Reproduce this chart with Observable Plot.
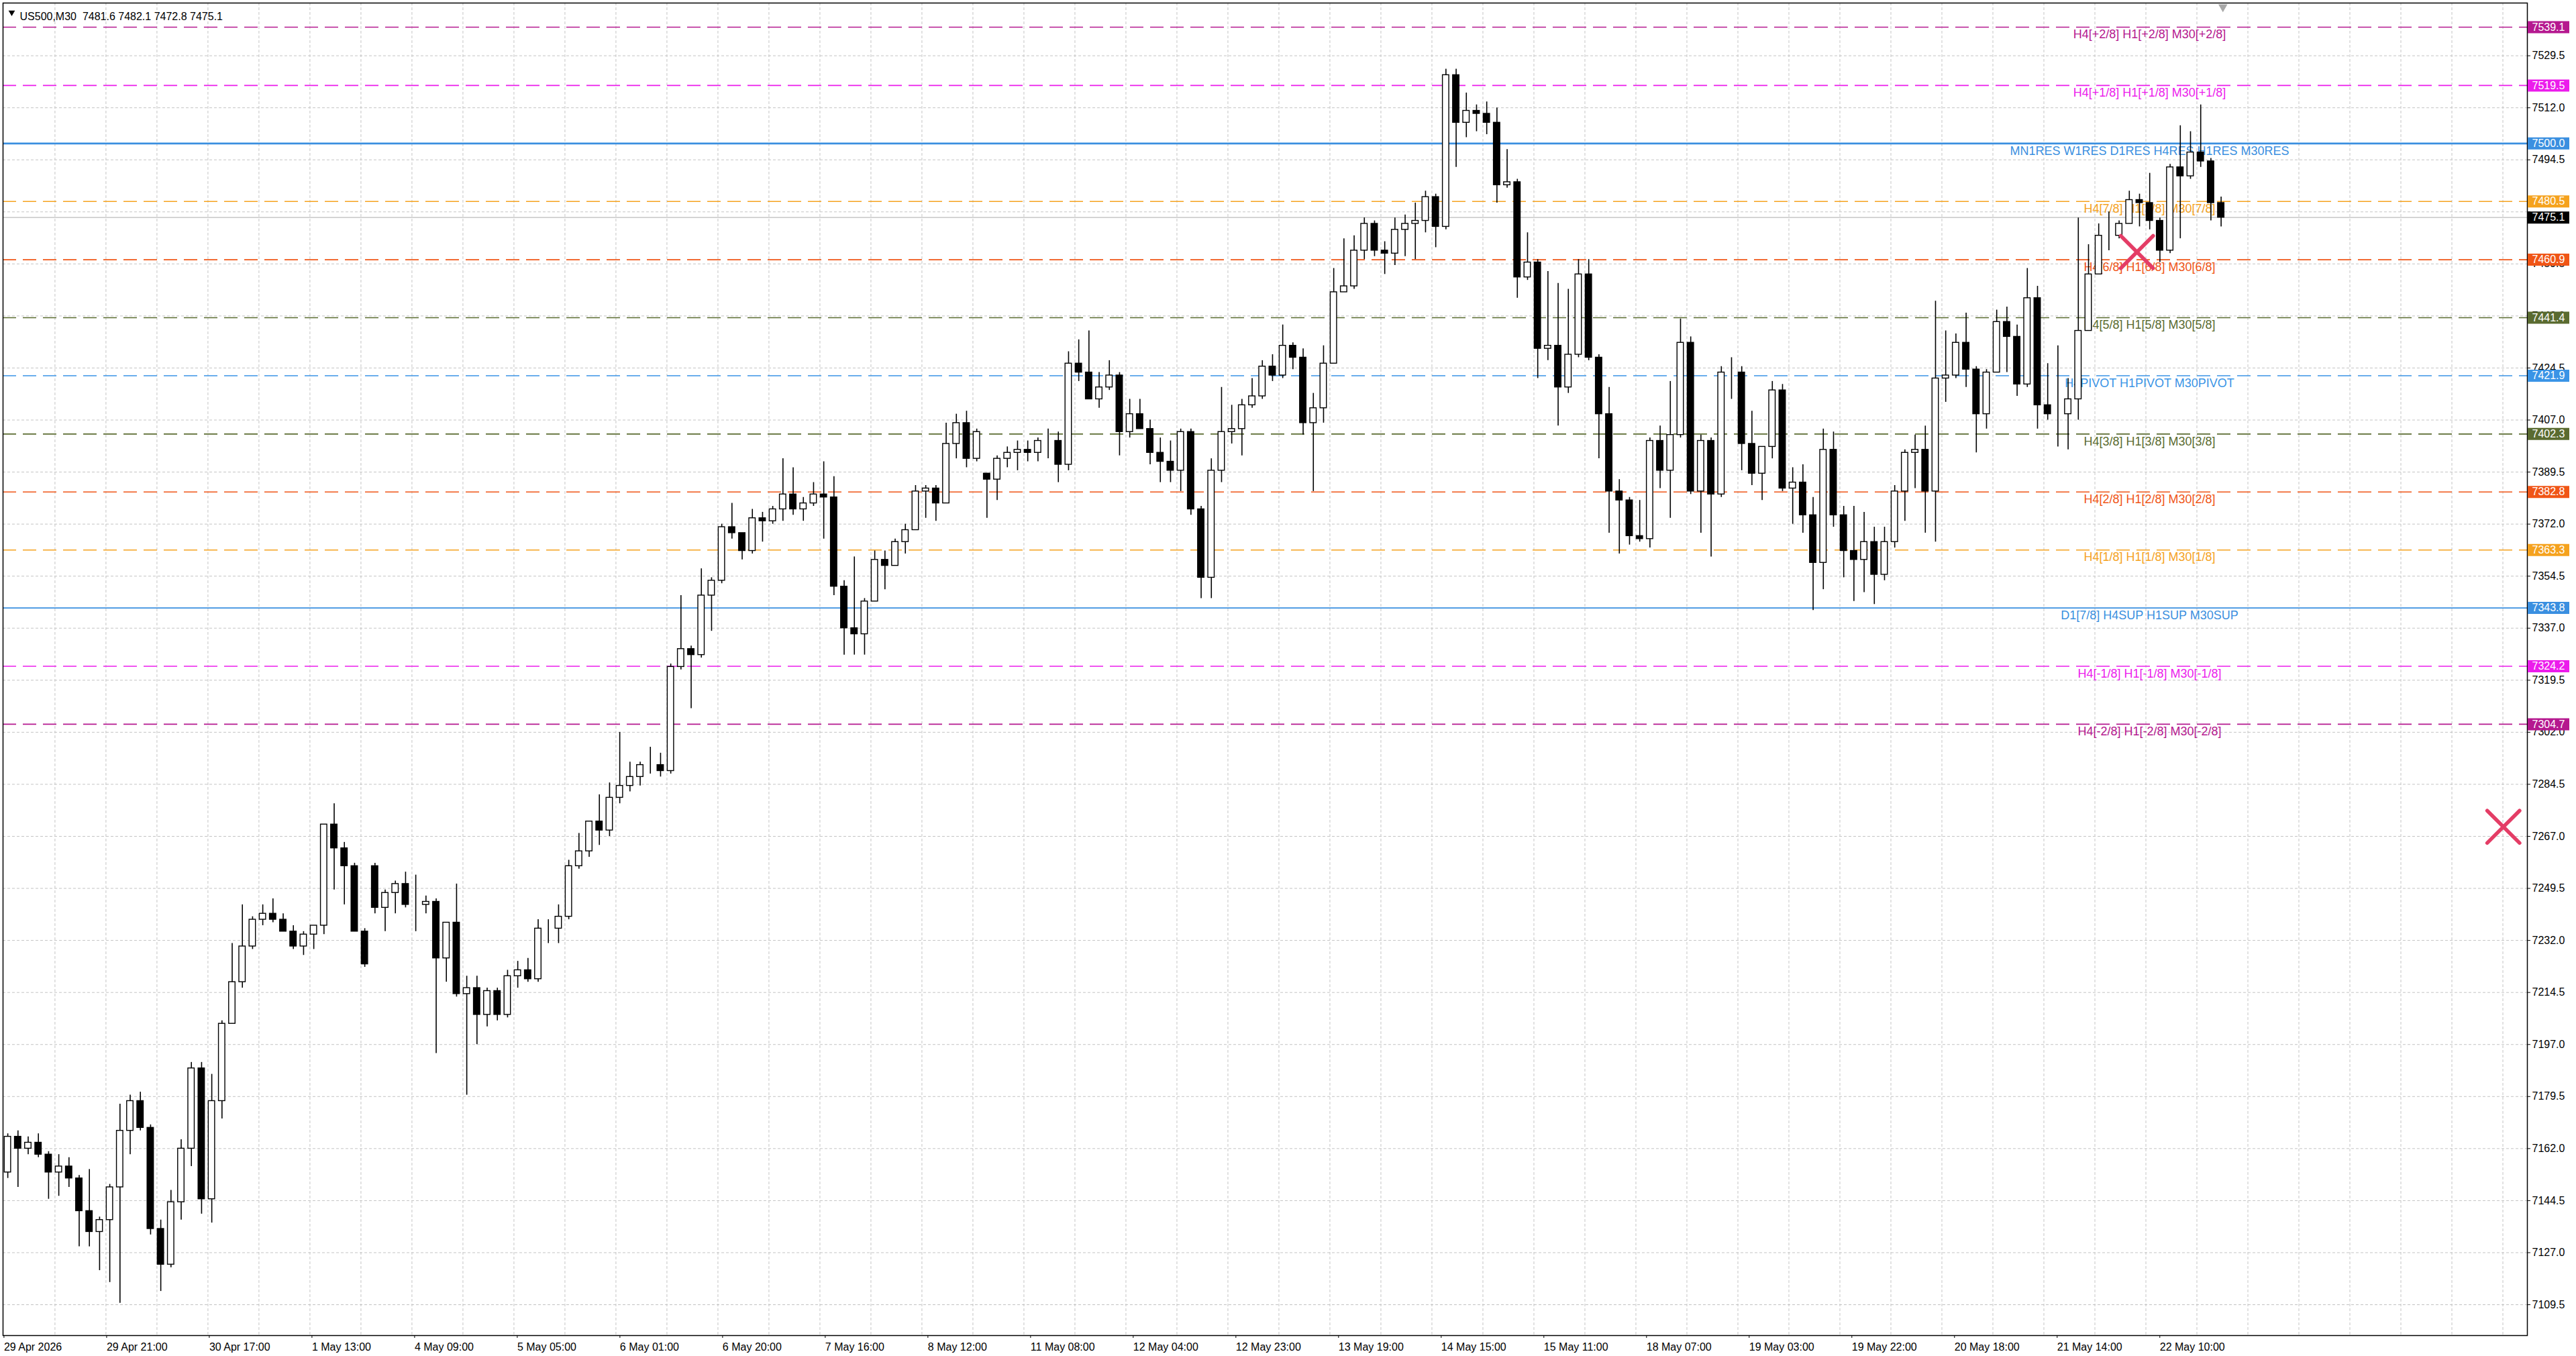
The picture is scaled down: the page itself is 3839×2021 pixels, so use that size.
<!DOCTYPE html>
<html>
<head>
<meta charset="utf-8">
<script src="https://cdn.jsdelivr.net/npm/d3@7"></script>
<script src="https://cdn.jsdelivr.net/npm/@observablehq/plot@0.6"></script>
<style>
html, body { margin: 0; padding: 0; background: #fff; overflow: hidden; }
#chart svg { display: block; }
</style>
</head>
<body>
<div id="chart"></div>
<script>
// ---- Data (2-hour candles) ----
const symbolName = "US500,M30";
const headerOHLC = [7481.6, 7482.1, 7472.8, 7475.1];
const currentPrice = 7475.1;

const open = [
7154,7166,7162,7164,7160,7154,7156,7152,7141,7134,
7138,7149,7168,7178,7169,7135,7123,7144,7162,7189,
7145,7178,7204,7218,7230,7239,7241,7239,7235,7230,
7234,7237,7271,7263,7257,7235,7257,7243,7248,7251,
7244,7244,7245,7226,7238,7214,7216,7207,7215,7207,
7220,7222,7219,7236,7236,7240,7257,7262,7272,7269,
7280,7284,7287,7291,7291,7289,7324,7330,7328,7348,
7353,7371,7369,7363,7374,7373,7377,7382,7377,7379,
7382,7381,7351,7337,7335,7346,7360,7358,7366,7370,
7383,7384,7379,7399,7406,7394,7389,7387,7394,7396,
7397,7396,7400,7400,7392,7426,7423,7414,7418,7422,
7403,7409,7404,7396,7393,7390,7403,7377,7354,7390,
7403,7404,7412,7415,7425,7422,7432,7428,7406,7411,
7426,7450,7452,7464,7473,7464,7463,7471,7473,7474,
7482,7472,7523,7507,7511,7510,7507,7486,7487,7455,
7460,7431,7432,7418,7429,7456,7428,7409,7383,7380,
7368,7367,7400,7390,7402,7433,7383,7400,7382,7423,
7423,7399,7389,7398,7417,7384,7386,7375,7359,7397,
7375,7363,7360,7366,7355,7366,7383,7396,7397,7383,
7421,7422,7433,7424,7409,7423,7440,7435,7419,7448,
7412,7409,7409,7414,7437,7456,7469,7469,7473,7481,
7480,7474,7464,7492,7489,7497,7494,7480
];
const high = [
7167,7168,7166,7167,7161,7160,7159,7153,7155,7139,
7150,7177,7180,7181,7170,7138,7148,7165,7191,7191,
7187,7205,7231,7244,7240,7244,7246,7241,7237,7235,
7237,7271,7278,7265,7258,7236,7258,7249,7252,7255,
7254,7247,7246,7238,7251,7220,7220,7216,7216,7222,
7225,7226,7239,7239,7244,7259,7268,7272,7281,7285,
7302,7292,7292,7297,7295,7325,7348,7331,7357,7354,
7372,7379,7369,7377,7376,7378,7394,7391,7381,7386,
7393,7388,7353,7361,7347,7363,7363,7367,7372,7385,
7385,7385,7406,7409,7410,7404,7389,7395,7398,7400,
7400,7401,7404,7403,7430,7434,7437,7423,7427,7423,
7414,7414,7407,7401,7400,7404,7404,7378,7394,7418,
7412,7414,7421,7427,7429,7439,7433,7431,7416,7432,
7458,7468,7469,7475,7474,7467,7475,7476,7480,7484,
7483,7525,7525,7517,7513,7514,7512,7498,7488,7470,
7461,7457,7453,7451,7461,7461,7429,7418,7387,7381,
7380,7401,7405,7420,7441,7435,7402,7401,7425,7428,
7425,7410,7398,7420,7419,7391,7392,7381,7404,7403,
7378,7378,7376,7371,7371,7385,7397,7402,7405,7447,
7437,7436,7443,7425,7424,7444,7445,7439,7458,7452,
7426,7432,7421,7475,7466,7473,7477,7474,7484,7483,
7490,7475,7493,7506,7504,7513,7495,7482
];
const low = [
7152,7149,7160,7159,7145,7146,7149,7129,7129,7121,
7117,7110,7160,7168,7133,7114,7122,7138,7156,7140,
7137,7172,7204,7216,7229,7237,7238,7235,7229,7227,
7229,7234,7249,7244,7235,7223,7241,7235,7241,7243,
7235,7241,7194,7218,7213,7180,7197,7203,7205,7206,
7216,7218,7218,7231,7231,7239,7256,7260,7264,7267,
7278,7282,7284,7288,7287,7288,7323,7310,7327,7336,
7352,7367,7360,7362,7366,7372,7373,7375,7373,7378,
7367,7348,7328,7328,7328,7346,7350,7358,7362,7370,
7374,7373,7379,7394,7391,7393,7374,7380,7391,7390,
7393,7393,7394,7386,7390,7420,7414,7411,7417,7395,
7401,7404,7392,7386,7386,7383,7375,7347,7347,7386,
7399,7395,7411,7414,7420,7421,7424,7402,7383,7406,
7426,7450,7451,7461,7462,7456,7459,7462,7461,7470,
7465,7471,7492,7502,7504,7503,7480,7485,7448,7454,
7421,7427,7405,7416,7428,7427,7394,7369,7362,7365,
7366,7364,7384,7374,7401,7382,7369,7361,7381,7414,
7390,7385,7380,7394,7383,7372,7369,7343,7350,7371,
7354,7346,7349,7345,7353,7364,7373,7384,7369,7366,
7413,7421,7418,7396,7404,7423,7423,7415,7418,7404,
7407,7398,7397,7407,7437,7456,7464,7468,7473,7472,
7471,7460,7463,7468,7488,7492,7474,7472
];
const close = [
7166,7162,7164,7160,7154,7156,7152,7141,7134,7138,
7149,7168,7178,7169,7135,7123,7144,7162,7189,7145,
7178,7204,7218,7230,7239,7241,7239,7235,7230,7234,
7237,7271,7263,7257,7235,7224,7243,7248,7251,7244,
7244,7245,7226,7238,7214,7216,7207,7215,7207,7220,
7222,7219,7236,7236,7240,7257,7262,7272,7269,7280,
7284,7287,7291,7291,7289,7324,7330,7328,7348,7353,
7371,7369,7363,7374,7373,7377,7382,7377,7379,7382,
7381,7351,7337,7335,7346,7360,7358,7366,7370,7383,
7384,7379,7399,7406,7394,7403,7387,7394,7396,7397,
7396,7400,7400,7392,7426,7423,7414,7418,7422,7403,
7409,7404,7396,7393,7390,7403,7377,7354,7390,7403,
7404,7412,7415,7425,7422,7432,7428,7406,7411,7426,
7450,7452,7464,7473,7464,7463,7471,7473,7474,7482,
7472,7523,7507,7511,7510,7507,7486,7487,7455,7460,
7431,7432,7418,7429,7456,7428,7409,7383,7380,7368,
7367,7400,7390,7402,7433,7383,7400,7382,7423,7423,
7399,7389,7398,7417,7384,7386,7375,7359,7397,7375,
7363,7360,7366,7355,7366,7383,7396,7397,7383,7421,
7422,7433,7424,7409,7423,7440,7435,7419,7448,7412,
7409,7409,7414,7437,7456,7469,7469,7473,7481,7480,
7474,7464,7492,7489,7497,7494,7480,7475.1
];

const levelKeys = ["+2/8","+1/8","8/8","7/8","6/8","5/8","4/8","3/8","2/8","1/8","0/8","-1/8","-2/8"];
const levelPrices = [7539.1, 7519.5, 7500.0, 7480.5, 7460.9, 7441.4, 7421.9, 7402.3, 7382.8, 7363.3, 7343.8, 7324.2, 7304.7];
const levelLabels = [
  "H4[+2/8] H1[+2/8] M30[+2/8]",
  "H4[+1/8] H1[+1/8] M30[+1/8]",
  "MN1RES W1RES D1RES H4RES H1RES M30RES",
  "H4[7/8] H1[7/8] M30[7/8]",
  "H4[6/8] H1[6/8] M30[6/8]",
  "H4[5/8] H1[5/8] M30[5/8]",
  "H4PIVOT H1PIVOT M30PIVOT",
  "H4[3/8] H1[3/8] M30[3/8]",
  "H4[2/8] H1[2/8] M30[2/8]",
  "H4[1/8] H1[1/8] M30[1/8]",
  "D1[7/8] H4SUP H1SUP M30SUP",
  "H4[-1/8] H1[-1/8] M30[-1/8]",
  "H4[-2/8] H1[-2/8] M30[-2/8]"
];
const solidKeys = ["8/8", "0/8"];

const yTicks = [7109.5, 7127.0, 7144.5, 7162.0, 7179.5, 7197.0, 7214.5, 7232.0, 7249.5, 7267.0,
  7284.5, 7302.0, 7319.5, 7337.0, 7354.5, 7372.0, 7389.5, 7407.0, 7424.5, 7442.0,
  7459.5, 7477.0, 7494.5, 7512.0, 7529.5];
const xTickLabels = ["29 Apr 2026","29 Apr 21:00","30 Apr 17:00","1 May 13:00","4 May 09:00",
  "5 May 05:00","6 May 01:00","6 May 20:00","7 May 16:00","8 May 12:00","11 May 08:00",
  "12 May 04:00","12 May 23:00","13 May 19:00","14 May 15:00","15 May 11:00","18 May 07:00",
  "19 May 03:00","19 May 22:00","20 May 18:00","21 May 14:00","22 May 10:00"];

// chart objects (crosses), in bar index / price
const crossBars = [836.5, 980.2];
const crossPrices = [7463.5, 7270.2];
const shiftBar = 870.2;

// ---- Styles ----
const levelColors = ["#b5188f","#ec1cec","#3a8fe0","#f5a21e","#f05516","#5a6b30","#3a94e6","#5a6b30","#f05516","#f5a21e","#3a8fe0","#ec1cec","#b5188f"];
const font = "'Liberation Sans', Arial, sans-serif";

// ---- Build ----
const candles = close.map((c, i) => ({bar: 4 * i + 1.5, o: open[i], h: high[i], l: low[i], c}));
const bull = candles.filter(d => d.c >= d.o);
const bear = candles.filter(d => d.c < d.o);
const levels = levelPrices.map((p, i) => ({price: p, key: levelKeys[i], label: levelLabels[i]}));
const dashed = levels.filter(d => !solidKeys.includes(d.key));
const crosses = crossBars.map((b, i) => ({bar: b, price: crossPrices[i]}));
const xTickBars = xTickLabels.map((_, i) => i * 40.26 - 0.26);
const tickMap = new Map(xTickBars.map((b, i) => [b, xTickLabels[i]]));
const gridBars = d3.range(20, 990, 20);
const header = symbolName + "\u00a0\u00a0" + headerOHLC.map(v => v.toFixed(1)).join(" ");
// a y label squeezed between two price tags is hidden behind them
const yLabel = d => Math.abs(d - currentPrice) < 3.6 ? "" : d.toFixed(1);
const bw = 1.25; // half body width in bars

const chart = Plot.plot({
  width: 3839,
  height: 2021,
  marginLeft: 4,
  marginTop: 4,
  marginRight: 73,
  marginBottom: 31,
  style: {fontFamily: font, fontSize: "16px", background: "#fff", color: "#000"},
  x: {domain: [-0.37, 989.6], axis: null},
  y: {domain: [7099.13, 7547.23], axis: null},
  color: {domain: levelKeys, range: levelColors},
  marks: [
    // grid
    Plot.ruleY(yTicks, {stroke: "#c4c4c4", strokeWidth: 1, strokeDasharray: "4,3"}),
    Plot.ruleX(gridBars, {stroke: "#c4c4c4", strokeWidth: 1, strokeDasharray: "4,3"}),
    // level lines
    Plot.ruleY(dashed, {y: "price", stroke: "key", strokeWidth: 1.6, strokeDasharray: "20,10"}),
    Plot.ruleY(levels.filter(d => d.key === "8/8"), {y: "price", stroke: "key", strokeWidth: 2.6}),
    Plot.ruleY(levels.filter(d => d.key === "0/8"), {y: "price", stroke: "key", strokeWidth: 1.6}),
    Plot.ruleY([currentPrice], {stroke: "#bcbcbc", strokeWidth: 1.2}),
    // level texts
    Plot.text(levels, {y: "price", text: "label", fill: "key", frameAnchor: "right", dx: -563, dy: 11,
      textAnchor: "middle", fontSize: 18}),
    // candles
    Plot.ruleX(candles, {x: "bar", y1: "l", y2: "h", stroke: "#000", strokeWidth: 1.6}),
    Plot.rect(bull, {x1: d => d.bar - bw, x2: d => d.bar + bw, y1: "o", y2: "c", fill: "#fff", stroke: "#000", strokeWidth: 1.4}),
    Plot.rect(bear, {x1: d => d.bar - bw, x2: d => d.bar + bw, y1: "o", y2: "c", fill: "#000", stroke: "#000", strokeWidth: 1.4}),
    // crosses
    Plot.dot(crosses, {x: "bar", y: "price", symbol: "times", r: 22, stroke: "#e43d66", strokeWidth: 5.5, strokeLinecap: "round"}),
    // frame
    Plot.frame({stroke: "#000", strokeWidth: 1.5}),
    // axes
    Plot.axisY(yTicks, {anchor: "right", tickSize: 4, tickPadding: 3, tickFormat: yLabel, label: null, fontSize: 16}),
    Plot.axisX(xTickBars, {anchor: "bottom", tickSize: 4, tickPadding: 7, tickFormat: d => tickMap.get(d), textAnchor: "start", dx: 1, label: null, fontSize: 16}),
    // price tags
    Plot.ruleY(levels, {y: "price", stroke: "key", strokeWidth: 18, insetLeft: 3763, insetRight: -63}),
    Plot.text(levels, {y: "price", text: d => d.price.toFixed(1), frameAnchor: "right", dx: 7, textAnchor: "start", fill: "#fff", fontSize: 16}),
    Plot.ruleY([currentPrice], {stroke: "#000", strokeWidth: 18, insetLeft: 3763, insetRight: -63}),
    Plot.text([currentPrice], {y: d => d, text: d => d.toFixed(1), frameAnchor: "right", dx: 7, textAnchor: "start", fill: "#fff", fontSize: 16}),
    // header
    Plot.dot([0], {frameAnchor: "top-left", dx: 13, dy: 14, symbol: "triangle", rotate: 180, r: 3.6, fill: "#000", stroke: null}),
    Plot.text([header], {frameAnchor: "top-left", dx: 25, dy: 14, textAnchor: "start", fontSize: 16, fill: "#000"}),
    // chart shift marker
    Plot.dot([shiftBar], {x: d => d, frameAnchor: "top", dy: 6, symbol: "triangle", rotate: 180, r: 5, fill: "#a8a8a8", stroke: null})
  ]
});
document.getElementById("chart").appendChild(chart);
</script>
</body>
</html>
